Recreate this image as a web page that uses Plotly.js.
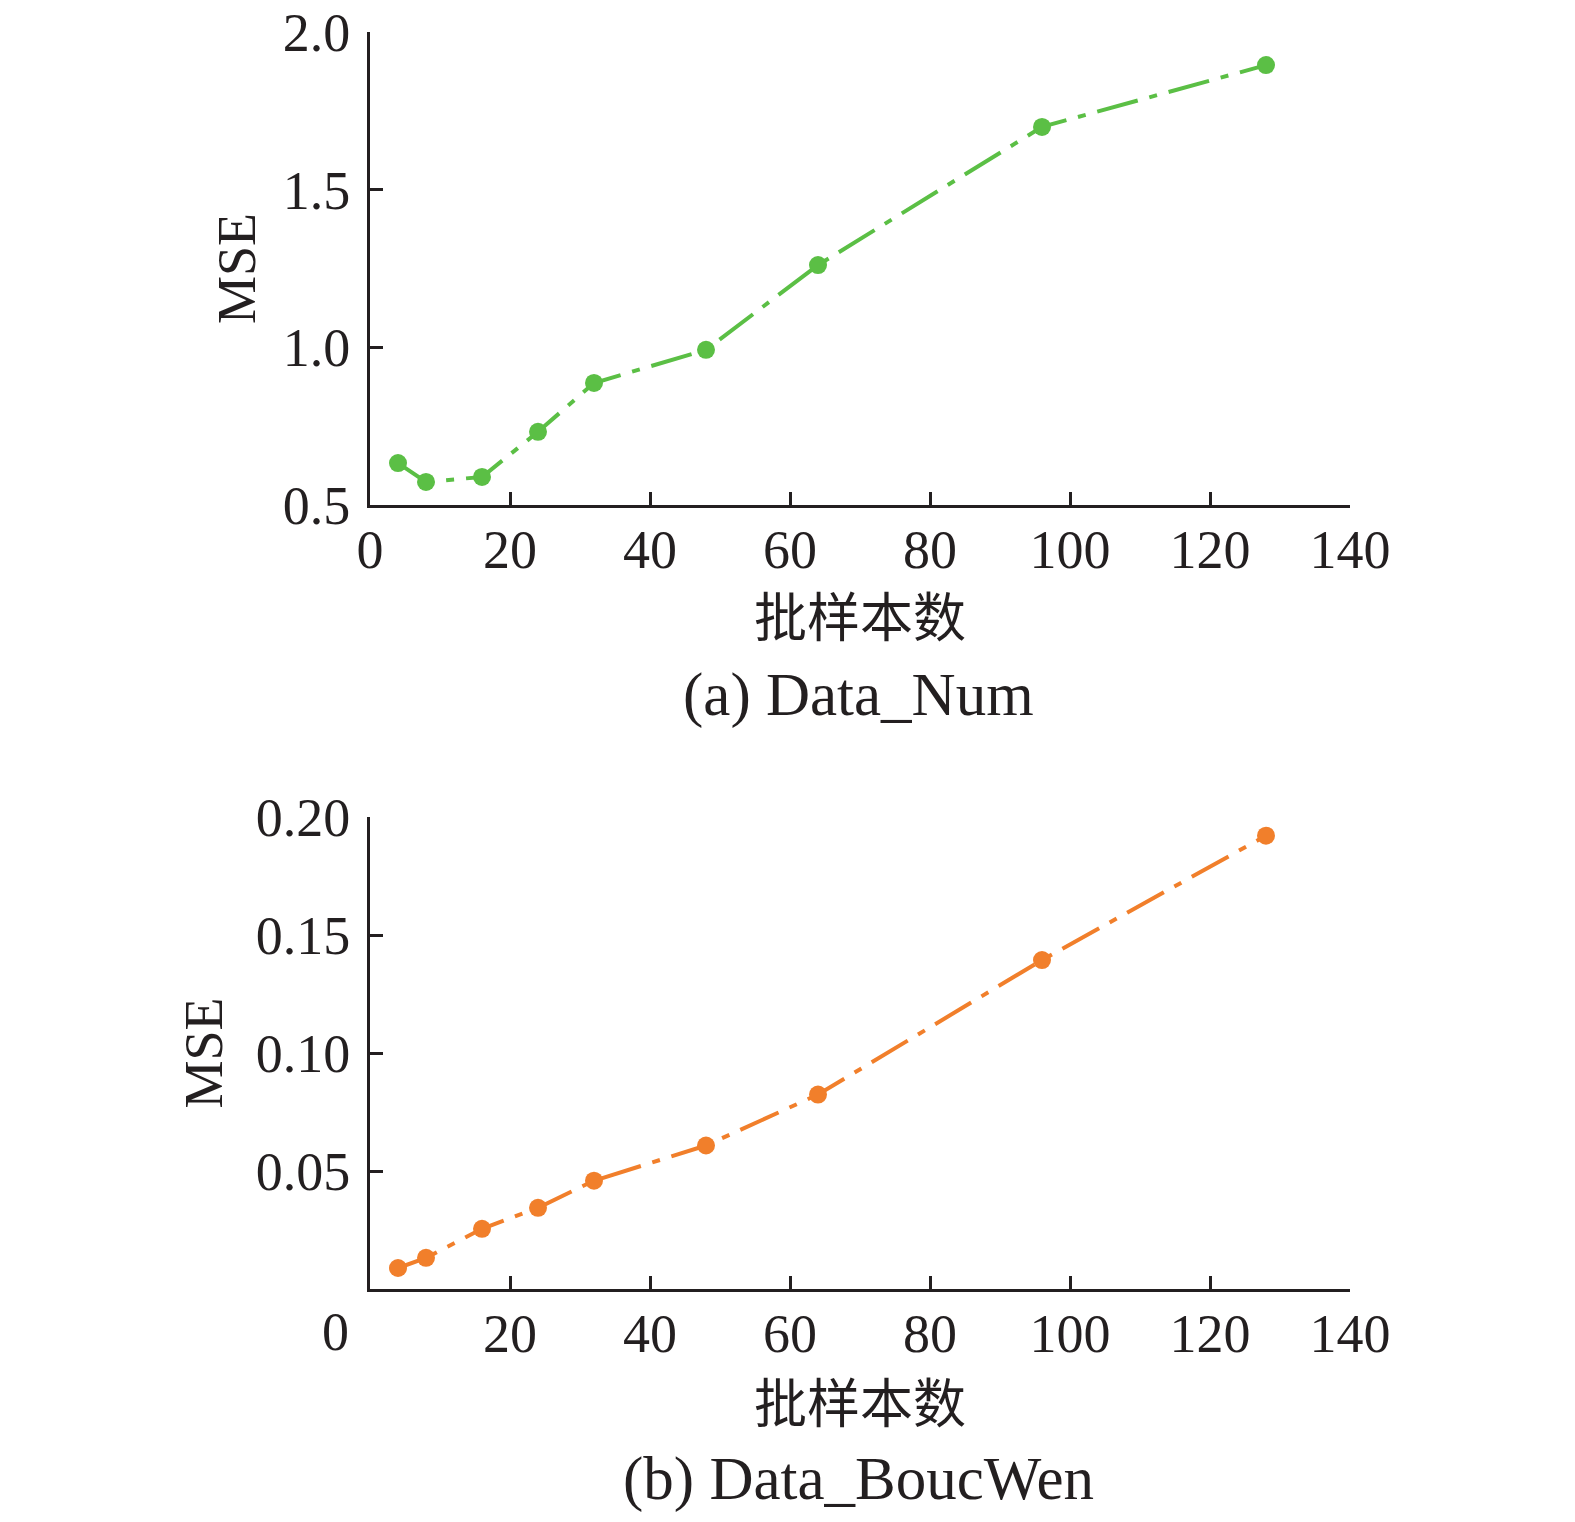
<!DOCTYPE html>
<html>
<head>
<meta charset="utf-8">
<script src="https://cdn.plot.ly/plotly-3.0.1.min.js"></script>
<style>html,body{margin:0;padding:0;background:#fff;overflow:hidden;}</style>
</head>
<body>
<div id="chart" style="width:1575px;height:1522px;"></div>
<script>
// Data
const batchSizes = [4, 8, 16, 24, 32, 48, 64, 96, 128];
const mseNum = [0.633, 0.573, 0.589, 0.732, 0.887, 0.992, 1.261, 1.699, 1.895];
const mseBoucWen = [0.0089, 0.0132, 0.0255, 0.0344, 0.0459, 0.0608, 0.0824, 0.1394, 0.1921];
const xTickVals = [0, 20, 40, 60, 80, 100, 120, 140];
const xTickValsB = [20, 40, 60, 80, 100, 120, 140];
const yTickValsA = [0.5, 1.0, 1.5, 2.0];
const yTickTextA = ['0.5', '1.0', '1.5', '2.0'];
const yTickValsB = [0.05, 0.10, 0.15, 0.20];
const yTickTextB = ['0.05', '0.10', '0.15', '0.20'];
const originLabel = '0';
const xTitle = '批样本数';
const yTitle = 'MSE';
const subTitleA = '(a) Data_Num';
const subTitleB = '(b) Data_BoucWen';

const FONT = "'Liberation Serif', 'Times New Roman', 'Noto Sans CJK SC', serif";
const AX = '#231f20';
const W = 1575, H = 1522;
const green = '#5bbf45', orange = '#f17f2b';
const dashPat = '42px,12px,8px,12px';

const traces = [
  {x: batchSizes, y: mseNum, xaxis: 'x', yaxis: 'y', mode: 'lines+markers',
   line: {color: green, width: 4, dash: dashPat}, marker: {color: green, size: 18}, showlegend: false},
  {x: batchSizes, y: mseBoucWen, xaxis: 'x2', yaxis: 'y2', mode: 'lines+markers',
   line: {color: orange, width: 4, dash: dashPat}, marker: {color: orange, size: 18}, showlegend: false}
];

const baseX = {
  range: [0, 140], showgrid: false, zeroline: false, showline: true, linecolor: AX, linewidth: 3,
  ticks: 'inside', ticklen: 13, tickwidth: 3, tickcolor: AX,
  tickfont: {family: FONT, size: 54, color: '#231f20'}, ticklabelstandoff: -5
};
const baseY = {
  showgrid: false, zeroline: false, showline: true, linecolor: AX, linewidth: 3,
  ticks: 'inside', ticklen: 13, tickwidth: 3, tickcolor: AX,
  tickfont: {family: FONT, size: 54, color: '#231f20'}, ticklabelstandoff: 6
};

const xd = [370 / W, 1350 / W];
const layout = {
  width: W, height: H,
  margin: {l: 0, r: 0, t: 0, b: 0},
  paper_bgcolor: '#fff', plot_bgcolor: '#fff',
  showlegend: false,
  xaxis: Object.assign({}, baseX, {domain: xd, anchor: 'y', tickvals: xTickVals,
    title: {text: xTitle, font: {family: FONT, size: 53, color: '#231f20'}, standoff: 22}}),
  yaxis: Object.assign({}, baseY, {domain: [1 - 505 / H, 1 - 32 / H], anchor: 'x', range: [0.5, 2.0],
    tickvals: yTickValsA, ticktext: yTickTextA,
    title: {text: yTitle, font: {family: FONT, size: 54, color: '#231f20'}, standoff: 10}}),
  xaxis2: Object.assign({}, baseX, {domain: xd, anchor: 'y2', tickvals: xTickValsB,
    title: {text: xTitle, font: {family: FONT, size: 53, color: '#231f20'}, standoff: 24}}),
  yaxis2: Object.assign({}, baseY, {domain: [1 - 1289 / H, 1 - 817 / H], anchor: 'x2', range: [0, 0.2],
    tickvals: yTickValsB, ticktext: yTickTextB,
    title: {text: yTitle, font: {family: FONT, size: 54, color: '#231f20'}, standoff: 16}}),
  annotations: [
    {text: originLabel, xref: 'paper', x: 335 / W, yref: 'paper', y: 1 - 1332 / H, showarrow: false,
     font: {family: FONT, size: 54, color: '#231f20'}, xanchor: 'center', yanchor: 'middle'},
    {text: subTitleA, xref: 'paper', x: 858 / W, yref: 'paper', y: 1 - 695 / H, showarrow: false,
     font: {family: FONT, size: 61, color: '#231f20'}, xanchor: 'center', yanchor: 'middle'},
    {text: subTitleB, xref: 'paper', x: 858 / W, yref: 'paper', y: 1 - 1479 / H, showarrow: false,
     font: {family: FONT, size: 61, color: '#231f20'}, xanchor: 'center', yanchor: 'middle'}
  ]
};

Plotly.newPlot('chart', traces, layout, {staticPlot: true, displayModeBar: false});
</script>
</body>
</html>
